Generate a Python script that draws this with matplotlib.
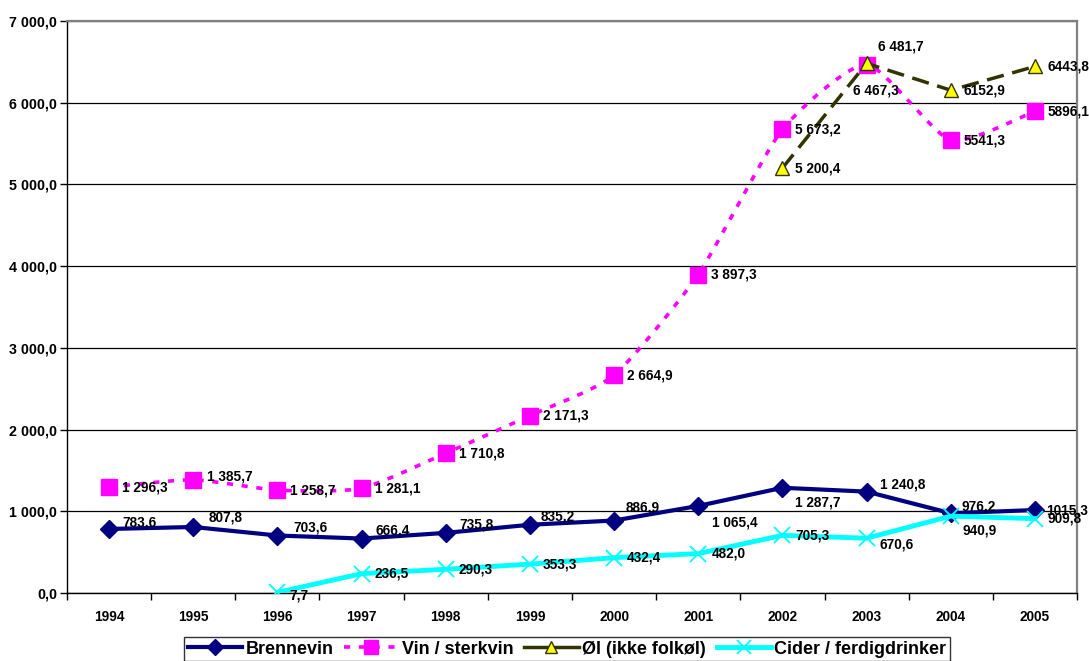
import numpy as np
import matplotlib
matplotlib.use("Agg")
import matplotlib.pyplot as plt
import matplotlib.ticker as ticker

plt.rcParams['font.family'] = ['Liberation Sans', 'DejaVu Sans']
plt.rcParams['font.weight'] = 'bold'

# Data
years = ["1994", "1995", "1996", "1997", "1998", "1999",
         "2000", "2001", "2002", "2003", "2004", "2005"]

brennevin = [783.6, 807.8, 703.6, 666.4, 735.8, 835.2, 886.9, 1065.4, 1287.7, 1240.8, 976.2, 1015.3]
vin = [1296.3, 1385.7, 1258.7, 1281.1, 1710.8, 2171.3, 2664.9, 3897.3, 5673.2, 6467.3, 5541.3, 5896.1]
ol = [None, None, None, None, None, None, None, None, 5200.4, 6481.7, 6152.9, 6443.8]
cider = [None, None, 7.7, 236.5, 290.3, 353.3, 432.4, 482.0, 705.3, 670.6, 940.9, 909.8]

brennevin_labels = ["783,6", "807,8", "703,6", "666,4", "735,8", "835,2", "886,9",
                    "1 065,4", "1 287,7", "1 240,8", "976,2", "1015,3"]
vin_labels = ["1 296,3", "1 385,7", "1 258,7", "1 281,1", "1 710,8", "2 171,3", "2 664,9",
              "3 897,3", "5 673,2", "6 467,3", "5541,3", "5896,1"]
ol_labels = [None] * 8 + ["5 200,4", "6 481,7", "6152,9", "6443,8"]
cider_labels = [None, None, "7,7", "236,5", "290,3", "353,3", "432,4", "482,0",
                "705,3", "670,6", "940,9", "909,8"]

series_names = ["Brennevin", "Vin / sterkvin", "Øl (ikke folkøl)", "Cider / ferdigdrinker"]

# label offsets in pixels (dx right, dy down); default is (13, 0)
label_offsets = {
    ("Brennevin", 0): (13, -6), ("Brennevin", 1): (15, -9), ("Brennevin", 2): (16, -8),
    ("Brennevin", 3): (14, -8), ("Brennevin", 4): (14, -8), ("Brennevin", 5): (11, -8),
    ("Brennevin", 6): (12, -13), ("Brennevin", 7): (14, 17), ("Brennevin", 8): (13, 15),
    ("Brennevin", 9): (13, -7), ("Brennevin", 10): (11, -7), ("Brennevin", 11): (11, 0),
    ("Vin / sterkvin", 1): (14, -3), ("Vin / sterkvin", 9): (-14, 26),
    ("Øl (ikke folkøl)", 9): (11, -17),
    ("Cider / ferdigdrinker", 2): (12, 3), ("Cider / ferdigdrinker", 9): (13, 6),
    ("Cider / ferdigdrinker", 10): (12, 14),
}


def smooth_curve(ax, xs, ys, tension=0.1, n=30):
    # Excel-like smoothed line: cardinal bezier in display space
    pts = ax.transData.transform(np.column_stack([xs, ys]))
    out = []
    for i in range(len(pts) - 1):
        p0 = pts[i - 1] if i > 0 else pts[i]
        p1 = pts[i]
        p2 = pts[i + 1]
        p3 = pts[i + 2] if i + 2 < len(pts) else pts[i + 1]
        c1 = p1 + (p2 - p0) * tension
        c2 = p2 - (p3 - p1) * tension
        t = np.linspace(0, 1, n)[:, None]
        seg = ((1 - t) ** 3 * p1 + 3 * (1 - t) ** 2 * t * c1
               + 3 * (1 - t) * t ** 2 * c2 + t ** 3 * p2)
        out.append(seg if i == 0 else seg[1:])
    out = np.vstack(out)
    d = ax.transData.inverted().transform(out)
    return d[:, 0], d[:, 1]


fig = plt.figure(figsize=(10.89, 6.61), dpi=100)
ax = fig.add_axes([67 / 1089, 1 - 593 / 661, (1077 - 67) / 1089, (593 - 21) / 661])
ax.set_xlim(-0.5, 11.5)
ax.set_ylim(0, 7000)

x = np.arange(len(years))


def valid(vals):
    idx = [i for i, v in enumerate(vals) if v is not None]
    return np.array(idx), np.array([vals[i] for i in idx])


# Brennevin
xb, yb = valid(brennevin)
ax.plot(xb, yb, color='#000080', lw=3, marker='D', ms=9, zorder=4)

# Vin / sterkvin (smoothed, dotted)
xv, yv = valid(vin)
sx, sy = smooth_curve(ax, xv, yv)
ax.plot(sx, sy, color='#FF00FF', lw=2.6, linestyle=(0, (1.7, 2.4)), zorder=3)
ax.plot(xv, yv, linestyle='none', marker='s', ms=11, color='#FF00FF', zorder=3)

# Øl
xo, yo = valid(ol)
ax.plot(xo, yo, color='#333300', lw=2.5, linestyle=(0, (5, 2.5)), marker='^', ms=10,
        markerfacecolor='#FFFF00', markeredgecolor='#333300', markeredgewidth=1, zorder=5)

# Cider
xc, yc = valid(cider)
ax.plot(xc, yc, color='#00FFFF', lw=3.5, marker='x', ms=11, mew=1.3, zorder=4)

# data labels
for name, vals, labels in [("Brennevin", brennevin, brennevin_labels),
                           ("Vin / sterkvin", vin, vin_labels),
                           ("Øl (ikke folkøl)", ol, ol_labels),
                           ("Cider / ferdigdrinker", cider, cider_labels)]:
    for i, (v, lab) in enumerate(zip(vals, labels)):
        if v is None:
            continue
        dx, dy = label_offsets.get((name, i), (13, 0))
        ax.annotate(lab, (i, v), xytext=(dx, -dy), textcoords='offset pixels',
                    ha='left', va='center', fontsize=9.8, fontweight='bold',
                    color='black', zorder=6, annotation_clip=False)

# axes styling
ax.yaxis.set_major_locator(ticker.MultipleLocator(1000))
ax.yaxis.set_major_formatter(ticker.FuncFormatter(
    lambda v, p: f"{v:,.1f}".replace(",", " ").replace(".", ",")))
ax.set_xticks(x)
ax.set_xticklabels(years)
ax.set_xticks(np.arange(-0.5, 12, 1), minor=True)
ax.tick_params(axis='x', which='major', length=0, pad=12, labelsize=9.8)
ax.tick_params(axis='x', which='minor', length=5, width=1, color='black')
ax.tick_params(axis='y', length=5, width=1, labelsize=10.3, pad=2)
for lab in ax.get_xticklabels() + ax.get_yticklabels():
    lab.set_fontweight('bold')

ax.grid(axis='y', color='black', lw=0.9)
ax.set_axisbelow(True)
ax.spines['left'].set_color('black')
ax.spines['bottom'].set_color('black')
ax.spines['left'].set_linewidth(1)
ax.spines['bottom'].set_linewidth(1)
ax.spines['top'].set_color('#808080')
ax.spines['right'].set_color('#808080')
ax.spines['top'].set_linewidth(1.6)
ax.spines['right'].set_linewidth(1.6)

# legend
handles = [
    plt.Line2D([], [], color='#000080', lw=3, marker='D', ms=8),
    plt.Line2D([], [], color='#FF00FF', lw=2.6, linestyle=(0, (1.7, 2.4)), marker='s', ms=10),
    plt.Line2D([], [], color='#333300', lw=2.5, marker='^', ms=9,
               markerfacecolor='#FFFF00', markeredgecolor='#333300'),
    plt.Line2D([], [], color='#00FFFF', lw=3.5, marker='x', ms=10, mew=1.3),
]
leg = fig.legend(handles, series_names, loc='upper center', ncol=4,
                 bbox_to_anchor=(567 / 1089, 1 - 637 / 661),
                 prop={'size': 13, 'weight': 'bold'}, frameon=True, fancybox=False,
                 edgecolor='black', handlelength=3.0, handletextpad=0.2,
                 columnspacing=0.6, borderpad=0.2, borderaxespad=0)
leg.get_frame().set_linewidth(1)

fig.savefig("out.png", dpi=100)
